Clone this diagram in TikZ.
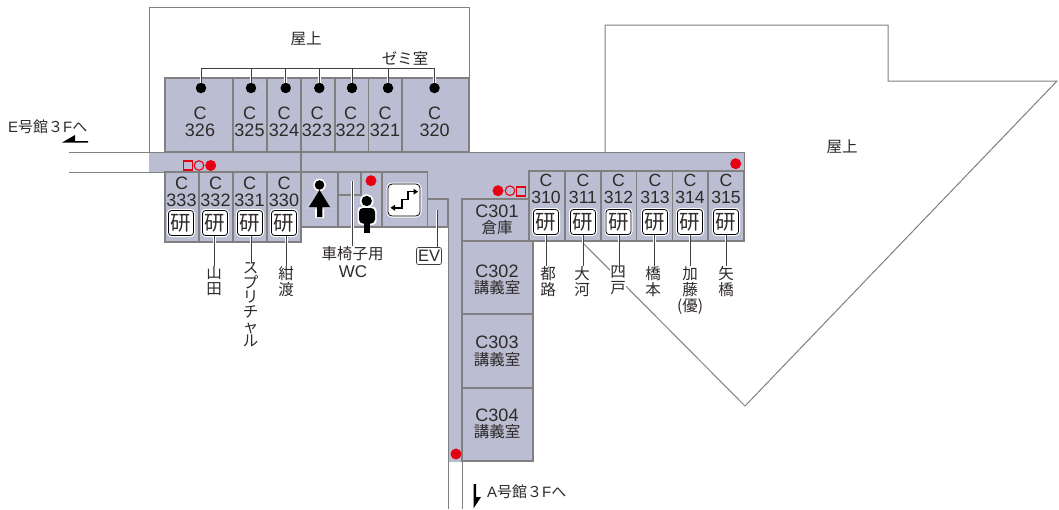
\documentclass[tikz,border=0pt]{standalone}
\usepackage{fontspec}
\setmainfont{Noto Sans CJK JP}
\newfontfamily\latinfont{Liberation Sans}
\usetikzlibrary{calc}

\begin{document}
\begin{tikzpicture}[
        %One unit is one pixel of the plan, y runs downward
        x=1pt, y=-1pt,
        wall/.style={draw=wallgray, line width=1.2pt},
        outline/.style={draw=wallgray, line width=1pt},
        room/.style={wall, fill=roomblue},
        roomnum/.style={font=\latinfont\fontsize{18}{17}\selectfont, inner sep=0pt, text=textblack, align=center},
        roomtag/.style={font=\fontsize{15.5}{15.5}\selectfont, inner sep=0pt, text=textblack},
        togo/.style={roomtag, anchor=west, font=\fontsize{15}{15}\selectfont},
        mark open/.style={draw=markred, line width=1.1pt},
        pin/.style={circle, fill=black, inner sep=0pt, minimum size=10.5pt},
        leader/.style={line width=0.8pt, draw=black!75, preaction={draw=white, line width=2.8pt}},
        lab/.style={rectangle, draw=black, fill=white, rounded corners=3pt, line width=0.8pt,
            inner sep=0pt, minimum width=25pt, minimum height=25pt,
            font=\fontsize{20.5}{20.5}\selectfont, text=textblack,
            preaction={draw=white, line width=3pt}},
        evbox/.style={rectangle, draw=black!75, fill=white, rounded corners=2pt, line width=0.7pt,
            inner sep=0pt, minimum width=25pt, minimum height=17pt,
            font=\latinfont\fontsize{16.5}{16.5}\selectfont, text=textblack},
        vname/.style={align=center, inner sep=0pt, fill=white, text=textblack,
            font=\fontsize{15.5}{16}\selectfont}
     ]
\definecolor{wallgray}{HTML}{808080}
\definecolor{roomblue}{HTML}{BBBDD3}
\definecolor{markred}{HTML}{E60012}
\definecolor{textblack}{HTML}{2E2A28}
\useasboundingbox (0,0) rectangle (1059,509);

% Roofs
\draw[outline] (149,152) -- (149,7) -- (469,7) -- (469,78);
\draw[outline] (605,152) -- (605,25) -- (888,25) -- (888,81) -- (1057,81) -- (745,406) -- (580,240);

% Corridors
\fill[roomblue] (149,152) -- (744,152) -- (744,171) -- (529,171) -- (529,199) -- (462,199)
    -- (462,462) -- (448,462) -- (448,227) -- (301,227) -- (301,172) -- (149,172) -- cycle;
\draw[outline] (69,152) -- (744,152) -- (744,171);
\draw[outline] (69,172) -- (301,172);
\draw[wall] (301,78) -- (301,242);
\draw[outline] (448,227) -- (448,509);
\draw[outline] (462,199) -- (462,509);

% Upper rooms
\foreach \xa/\xb in {165/233,233/267,267/301,301/335,335/368.5,368.5/402,402/469}
    \draw[room] (\xa,78) rectangle (\xb,152);
% Lower left rooms
\foreach \xa/\xb in {165/199,199/233,233/267,267/301}
    \draw[room] (\xa,172) rectangle (\xb,242);
% Right rooms
\foreach \xa/\xb in {529/565,565/601,601/636.5,636.5/672.5,672.5/708,708/744}
    \draw[room] (\xa,171) rectangle (\xb,241);
% Lecture rooms
\draw[room] (462,199) rectangle (529,241);
\draw[room] (462,241) rectangle (533,314);
\draw[room] (462,314) rectangle (533,388);
\draw[room] (462,388) rectangle (533,461);

% Toilets, stairs and lift
\draw[room] (301,172) rectangle (427.5,227);
\draw[wall] (338,172) -- (338,227);
\draw[wall] (338,195) -- (361,195) -- (361,172);
\draw[wall] (382,172) -- (382,227);
\draw[room] (427.5,199) rectangle (448,227);

% Seminar rooms
\node[roomtag] (zemi) at (405,58) {ゼミ室};
\node[roomtag] (roofa) at (306,39) {屋上};
\node[roomtag] (roofb) at (842,147) {屋上};
\coordinate (busl) at (200.5,68.5);
\coordinate (busr) at (434.5,68.5);
\foreach \name/\xp/\xt/\num in {c326/201/200/326,c325/251/249.5/325,c324/285.7/284/324,c323/319.3/317/323,
        c322/352/350.7/322,c321/388/385/321,c320/434.5/434.7/320} {
    \node[pin] (\name) at (\xp,88) {};
    \draw[leader] (\xp,68.5) -- (\name);
    \node[roomnum] (\name text) at (\xt,121.5) {C\\\num};
}
\draw[line width=0.8pt, draw=black!75] (busl) -- (busr);

% Rooms with a staff name
\foreach \name/\xt/\xb/\num in {c333/181.5/181/333,c332/215.5/215/332,c331/249.5/250/331,c330/284/284/330} {
    \node[roomnum] (\name text) at (\xt,191.3) {C\\\num};
    \node[lab] (\name) at (\xb,223) {研};
}
\foreach \name/\xt/\num in {c310/546/310,c311/583/311,c312/618.5/312,c313/655/313,c314/690/314,c315/726/315} {
    \node[roomnum, font=\latinfont\fontsize{17.6}{16.8}\selectfont] (\name text) at (\xt,188.8) {C\\\num};
    \node[lab] (\name) at (\xt,222) {研};
}

\node[roomnum] (c301) at (497,211) {C301};
\node[roomtag] (c301b) at (497,228) {倉庫};
\node[roomnum] (c302) at (497,271) {C302};
\node[roomtag] (c302b) at (497,288) {講義室};
\node[roomnum] (c303) at (497,342) {C303};
\node[roomtag] (c303b) at (497,360) {講義室};
\node[roomnum] (c304) at (497,415) {C304};
\node[roomtag] (c304b) at (497,432) {講義室};

% Names below the rooms
\node[vname, anchor=north] (yamada) at (214,266) {山\\田};
\node[vname, anchor=north, font=\fontsize{15.5}{14.6}\selectfont] (split) at (250.5,262.5) {ス\\プ\\リ\\チ\\ャ\\ル};
\node[vname, anchor=north] (kondo) at (286,266) {紺\\渡};
\node[vname, anchor=north] (miyako) at (548,266) {都\\路};
\node[vname, anchor=north] (okawa) at (582,266) {大\\河};
\node[vname, anchor=north] (shito) at (618,266) {四\\戸};
\node[vname, anchor=north] (hashi) at (653,266) {橋\\本};
\node[vname, anchor=north] (kato) at (690,266) {加\\藤\\(優)};
\node[vname, anchor=north] (yahashi) at (726,266) {矢\\橋};
\foreach \a/\b/\xl in {c332/yamada/214.3,c331/split/251,c330/kondo/286.5,c310/miyako/546,c311/okawa/583,
        c312/shito/619,c313/hashi/654.7,c314/kato/690,c315/yahashi/726}
    \draw[leader] (\xl,0 |- \a.south) -- (\xl,0 |- \b.north);

% Wheelchair toilet and lift
\node[roomtag, inner sep=1pt] (wc) at (352.5,254) {車椅子用};
\node[roomnum, font=\latinfont\fontsize{17}{17}\selectfont] (wcb) at (353,272) {WC};
\coordinate (wct) at (352.5,181);
\draw[leader] (wct) -- (wc.north -| wct);
\node[evbox] (ev) at (429,256) {EV};
\coordinate (evt) at (437,210);
\draw[leader] (evt) -- (ev.north -| evt);

% People
\fill[white] (319.5,185) circle (6.3);
\fill[white] (319.5,187) -- (306,208.5) -- (333,208.5) -- (324,208.5) -- (324,218) -- (315,218) -- (315,208.5) -- (306,208.5) -- cycle;
\fill[black] (319.5,185) circle (4.8);
\fill[black] (319.5,190) -- (309,207) -- (317,207) -- (317,217) -- (322.3,217) -- (322.3,207) -- (330,207) -- cycle;
\fill[white] (366.7,201) circle (6.8);
\fill[white, rounded corners=4pt] (357.5,206.5) rectangle (376.5,225);
\fill[black] (366.7,201) circle (5.2);
\fill[black, rounded corners=4pt] (359,208) -- (375,208) -- (375,223.5) -- (359,223.5) -- cycle;
\fill[black] (364,222) rectangle (369.5,233);

% Stairs
\node[lab, minimum width=32pt, minimum height=32pt, rounded corners=4pt] (stairs) at (404,200) {};
\draw[line width=1.5pt, black] (393.5,207.8) -- (402,207.8) -- (402,199.5) -- (408,199.5) -- (408,191.7) -- (415,191.7);
\fill[black] (390.5,207.8) -- (395,204.8) -- (395,210.8) -- cycle;
\fill[black] (418,191.7) -- (413.5,188.7) -- (413.5,194.7) -- cycle;

% Red marks
\draw[mark open] (183.5,161) rectangle (192.5,170);
\draw[mark open] (199,165.5) circle (4.8);
\fill[markred] (210.7,165.5) circle (5.5);
\fill[markred] (498,190.7) circle (5.5);
\draw[mark open] (510,190.7) circle (4.8);
\draw[mark open] (516.7,187) rectangle (525.5,196);
\fill[markred] (735.7,163.7) circle (5.5);
\fill[markred] (371,180.7) circle (5.5);
\fill[markred] (456,454) circle (5.5);

% To the other buildings
\node[togo] (toe) at (8,127) {{\latinfont E}号館３{\latinfont F}へ};
\node[togo] (toa) at (487,492) {{\latinfont A}号館３{\latinfont F}へ};
\fill[black] (62,142.6) -- (75,135) -- (75,141.2) -- (88,141.2) -- (88,142.6) -- cycle;
\fill[black] (473.5,484) -- (476,484) -- (476,497) -- (481,497) -- (473.5,508.5) -- cycle;
\end{tikzpicture}
\end{document}
